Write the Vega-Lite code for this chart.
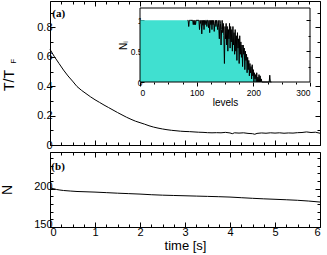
{
  "$schema": "https://vega.github.io/schema/vega-lite/v6.json",
  "padding": {"left": 0, "top": 0, "right": 2, "bottom": 0},
  "spacing": 0,
  "config": {
    "view": {"stroke": "black", "strokeWidth": 1},
    "font": "Liberation Sans",
    "axis": {"domain": false, "grid": false, "tickColor": "black", "labelColor": "black", "titleColor": "black", "labelFont": "Liberation Sans", "titleFont": "Liberation Sans", "titleFontWeight": "normal", "labelFontSize": 11, "titleFontSize": 14, "tickWidth": 1}
  },
  "datasets": {
    "a": [
      {"t": 0, "v": 0.651}, {"t": 0.1, "v": 0.6}, {"t": 0.2, "v": 0.555}, {"t": 0.3, "v": 0.51}, {"t": 0.4, "v": 0.47}, {"t": 0.5, "v": 0.435}, {"t": 0.6, "v": 0.398}, {"t": 0.7, "v": 0.372}, {"t": 0.8, "v": 0.35}, {"t": 0.9, "v": 0.328}, {"t": 1.0, "v": 0.308}, {"t": 1.1, "v": 0.29}, {"t": 1.2, "v": 0.272}, {"t": 1.3, "v": 0.255}, {"t": 1.4, "v": 0.238}, {"t": 1.5, "v": 0.221}, {"t": 1.6, "v": 0.205}, {"t": 1.7, "v": 0.189}, {"t": 1.8, "v": 0.175}, {"t": 1.9, "v": 0.162}, {"t": 2.0, "v": 0.152}, {"t": 2.1, "v": 0.142}, {"t": 2.2, "v": 0.131}, {"t": 2.3, "v": 0.122}, {"t": 2.4, "v": 0.115}, {"t": 2.5, "v": 0.109}, {"t": 2.6, "v": 0.104}, {"t": 2.7, "v": 0.1}, {"t": 2.8, "v": 0.097}, {"t": 2.9, "v": 0.094}, {"t": 3.0, "v": 0.092}, {"t": 3.1, "v": 0.091}, {"t": 3.2, "v": 0.089}, {"t": 3.3, "v": 0.087}, {"t": 3.4, "v": 0.086}, {"t": 3.5, "v": 0.084}, {"t": 3.6, "v": 0.083}, {"t": 3.7, "v": 0.084}, {"t": 3.8, "v": 0.083}, {"t": 3.9, "v": 0.086}, {"t": 4.0, "v": 0.082}, {"t": 4.05, "v": 0.077}, {"t": 4.1, "v": 0.083}, {"t": 4.2, "v": 0.081}, {"t": 4.3, "v": 0.083}, {"t": 4.4, "v": 0.079}, {"t": 4.5, "v": 0.077}, {"t": 4.55, "v": 0.073}, {"t": 4.6, "v": 0.079}, {"t": 4.7, "v": 0.082}, {"t": 4.8, "v": 0.08}, {"t": 4.9, "v": 0.083}, {"t": 5.0, "v": 0.081}, {"t": 5.1, "v": 0.083}, {"t": 5.2, "v": 0.08}, {"t": 5.3, "v": 0.082}, {"t": 5.4, "v": 0.081}, {"t": 5.5, "v": 0.084}, {"t": 5.6, "v": 0.085}, {"t": 5.7, "v": 0.089}, {"t": 5.8, "v": 0.085}, {"t": 5.9, "v": 0.087}, {"t": 6.0, "v": 0.08}
    ],
    "b": [
      {"t": 0, "n": 201.3}, {"t": 0.07, "n": 200.2}, {"t": 0.14, "n": 199.1}, {"t": 0.22, "n": 198.3}, {"t": 0.3, "n": 197.7}, {"t": 0.45, "n": 197}, {"t": 0.6, "n": 196.4}, {"t": 0.8, "n": 196}, {"t": 1.0, "n": 195.6}, {"t": 1.25, "n": 194.9}, {"t": 1.5, "n": 194.2}, {"t": 1.75, "n": 193.6}, {"t": 2.0, "n": 193}, {"t": 2.25, "n": 192.2}, {"t": 2.5, "n": 191.6}, {"t": 2.75, "n": 191.2}, {"t": 3.0, "n": 190.8}, {"t": 3.25, "n": 190.4}, {"t": 3.5, "n": 190}, {"t": 3.75, "n": 189.6}, {"t": 4.0, "n": 189.1}, {"t": 4.25, "n": 188.3}, {"t": 4.5, "n": 187.5}, {"t": 4.75, "n": 186.8}, {"t": 5.0, "n": 186.2}, {"t": 5.25, "n": 185.6}, {"t": 5.5, "n": 184.9}, {"t": 5.75, "n": 183.9}, {"t": 6.0, "n": 182.6}
    ],
    "inset": [
      {"level": 0, "n": 1}, {"level": 83, "n": 1}, {"level": 84, "n": 1}, {"level": 85, "n": 1}, {"level": 86, "n": 0.9}, {"level": 87, "n": 1}, {"level": 88, "n": 1}, {"level": 89, "n": 1}, {"level": 90, "n": 1}, {"level": 93, "n": 1}, {"level": 94, "n": 0.93}, {"level": 95, "n": 1}, {"level": 96, "n": 0.93}, {"level": 97, "n": 1}, {"level": 98, "n": 0.93}, {"level": 99, "n": 1}, {"level": 104, "n": 1}, {"level": 105, "n": 0.85}, {"level": 106, "n": 1}, {"level": 107, "n": 0.95}, {"level": 108, "n": 1}, {"level": 109, "n": 0.78}, {"level": 110, "n": 1}, {"level": 111, "n": 0.92}, {"level": 112, "n": 1}, {"level": 113, "n": 0.85}, {"level": 114, "n": 1}, {"level": 115, "n": 0.93}, {"level": 116, "n": 1}, {"level": 117, "n": 1}, {"level": 118, "n": 0.9}, {"level": 119, "n": 1}, {"level": 120, "n": 1}, {"level": 121, "n": 0.88}, {"level": 122, "n": 1}, {"level": 123, "n": 0.8}, {"level": 124, "n": 1}, {"level": 125, "n": 0.93}, {"level": 126, "n": 1}, {"level": 127, "n": 0.85}, {"level": 128, "n": 1}, {"level": 129, "n": 0.93}, {"level": 130, "n": 1}, {"level": 131, "n": 0.82}, {"level": 132, "n": 0.95}, {"level": 133, "n": 1}, {"level": 134, "n": 0.9}, {"level": 135, "n": 1}, {"level": 136, "n": 0.95}, {"level": 137, "n": 0.85}, {"level": 138, "n": 1}, {"level": 139, "n": 0.88}, {"level": 140, "n": 0.7}, {"level": 141, "n": 1}, {"level": 142, "n": 0.95}, {"level": 143, "n": 0.6}, {"level": 144, "n": 0.85}, {"level": 145, "n": 1}, {"level": 146, "n": 0.8}, {"level": 147, "n": 0.95}, {"level": 148, "n": 0.75}, {"level": 149, "n": 0.3}, {"level": 150, "n": 0.9}, {"level": 151, "n": 0.7}, {"level": 152, "n": 0.95}, {"level": 153, "n": 0.6}, {"level": 154, "n": 0.9}, {"level": 155, "n": 0.5}, {"level": 156, "n": 0.85}, {"level": 157, "n": 0.7}, {"level": 158, "n": 0.95}, {"level": 159, "n": 0.55}, {"level": 160, "n": 0.9}, {"level": 161, "n": 0.65}, {"level": 162, "n": 0.85}, {"level": 163, "n": 0.5}, {"level": 164, "n": 0.9}, {"level": 165, "n": 0.6}, {"level": 166, "n": 0.8}, {"level": 167, "n": 0.45}, {"level": 168, "n": 0.85}, {"level": 169, "n": 0.5}, {"level": 170, "n": 0.75}, {"level": 171, "n": 0.35}, {"level": 172, "n": 0.8}, {"level": 173, "n": 0.55}, {"level": 174, "n": 0.7}, {"level": 175, "n": 0.3}, {"level": 176, "n": 0.75}, {"level": 177, "n": 0.45}, {"level": 178, "n": 0.65}, {"level": 179, "n": 0.4}, {"level": 180, "n": 0.6}, {"level": 181, "n": 0.25}, {"level": 182, "n": 0.6}, {"level": 183, "n": 0.45}, {"level": 184, "n": 0.55}, {"level": 185, "n": 0.2}, {"level": 186, "n": 0.5}, {"level": 187, "n": 0.35}, {"level": 188, "n": 0.45}, {"level": 189, "n": 0.15}, {"level": 190, "n": 0.4}, {"level": 191, "n": 0.2}, {"level": 192, "n": 0.35}, {"level": 193, "n": 0.1}, {"level": 194, "n": 0.3}, {"level": 195, "n": 0.15}, {"level": 196, "n": 0.25}, {"level": 197, "n": 0.05}, {"level": 198, "n": 0.28}, {"level": 199, "n": 0.1}, {"level": 200, "n": 0.2}, {"level": 201, "n": 0}, {"level": 202, "n": 0.15}, {"level": 203, "n": 0.05}, {"level": 204, "n": 0.12}, {"level": 205, "n": 0}, {"level": 206, "n": 0.15}, {"level": 207, "n": 0}, {"level": 208, "n": 0.08}, {"level": 209, "n": 0}, {"level": 210, "n": 0.12}, {"level": 211, "n": 0}, {"level": 212, "n": 0.1}, {"level": 213, "n": 0}, {"level": 214, "n": 0.05}, {"level": 215, "n": 0}, {"level": 228, "n": 0}, {"level": 229, "n": 0.11}, {"level": 230, "n": 0}, {"level": 232, "n": 0}
    ]
  },
  "vconcat": [
    {
      "width": 270,
      "height": 144,
      "layer": [
        {
          "data": {"name": "a"},
          "layer": [
            {
              "mark": {"type": "line", "color": "black", "strokeWidth": 1},
              "encoding": {
                "x": {"field": "t", "type": "quantitative", "scale": {"domain": [0, 6], "nice": false}, "axis": {"orient": "bottom", "values": [0, 1, 2, 3, 4, 5, 6], "labels": false, "tickSize": -5, "title": null}},
                "y": {"field": "v", "type": "quantitative", "scale": {"domain": [0, 0.98], "nice": false}, "axis": {"orient": "left", "values": [0, 0.2, 0.4, 0.6, 0.8], "format": ".1~f", "tickSize": -5, "labelPadding": 3, "title": "T/T", "titlePadding": 20, "titleY": 79}}
              }
            },
            {
              "mark": {"type": "line", "opacity": 0},
              "encoding": {
                "x": {"field": "t", "type": "quantitative", "scale": {"domain": [0, 6], "nice": false}, "axis": {"orient": "bottom", "values": [0.25, 0.5, 0.75, 1.25, 1.5, 1.75, 2.25, 2.5, 2.75, 3.25, 3.5, 3.75, 4.25, 4.5, 4.75, 5.25, 5.5, 5.75], "labels": false, "tickSize": -3, "title": null}},
                "y": {"field": "v", "type": "quantitative", "scale": {"domain": [0, 0.98], "nice": false}, "axis": {"orient": "left", "values": [0.1, 0.3, 0.5, 0.7, 0.9], "labels": false, "tickSize": -3, "title": null}}
              }
            },
            {
              "mark": {"type": "line", "opacity": 0},
              "encoding": {
                "x": {"field": "t", "type": "quantitative", "scale": {"domain": [0, 6], "nice": false}, "axis": {"orient": "top", "values": [0, 1, 2, 3, 4, 5, 6], "labels": false, "tickSize": -5, "title": null}},
                "y": {"field": "v", "type": "quantitative", "scale": {"domain": [0, 0.98], "nice": false}, "axis": {"orient": "right", "values": [0, 0.2, 0.4, 0.6, 0.8], "labels": false, "tickSize": -5, "title": null}}
              }
            },
            {
              "mark": {"type": "line", "opacity": 0},
              "encoding": {
                "x": {"field": "t", "type": "quantitative", "scale": {"domain": [0, 6], "nice": false}, "axis": {"orient": "top", "values": [0.25, 0.5, 0.75, 1.25, 1.5, 1.75, 2.25, 2.5, 2.75, 3.25, 3.5, 3.75, 4.25, 4.5, 4.75, 5.25, 5.5, 5.75], "labels": false, "tickSize": -3, "title": null}},
                "y": {"field": "v", "type": "quantitative", "scale": {"domain": [0, 0.98], "nice": false}, "axis": {"orient": "right", "values": [0.1, 0.3, 0.5, 0.7, 0.9], "labels": false, "tickSize": -3, "title": null}}
              }
            },
            {
              "data": {"values": [{}]},
              "mark": {"type": "text", "text": "(a)", "font": "Liberation Serif", "fontWeight": "bold", "fontSize": 11, "align": "left", "baseline": "middle", "color": "black"},
              "encoding": {
                "x": {"datum": 0.05, "type": "quantitative", "scale": {"domain": [0, 6], "nice": false}, "axis": null},
                "y": {"datum": 0.89, "type": "quantitative", "scale": {"domain": [0, 0.98], "nice": false}, "axis": null}
              }
            },
            {
              "data": {"values": [{}]},
              "mark": {"type": "text", "text": "F", "fontSize": 8, "angle": 270, "align": "center", "baseline": "middle", "color": "black"},
              "encoding": {
                "x": {"datum": -0.81, "type": "quantitative", "scale": {"domain": [0, 6], "nice": false}, "axis": null},
                "y": {"datum": 0.57, "type": "quantitative", "scale": {"domain": [0, 0.98], "nice": false}, "axis": null}
              }
            }
          ],
          "resolve": {"axis": {"x": "independent", "y": "independent"}}
        },
        {
          "data": {"name": "inset"},
          "layer": [
            {
              "mark": {"type": "area", "color": "turquoise", "interpolate": "linear"},
              "encoding": {
                "x": {"field": "level", "type": "quantitative", "scale": {"domain": [0, 300], "range": [90, 260], "nice": false}, "axis": {"orient": "bottom", "offset": -63, "values": [0, 100, 200, 300], "tickSize": 4, "labelFontSize": 8.5, "labelPadding": 2, "title": "levels", "titleFontSize": 10, "titlePadding": 1}},
                "y": {"field": "n", "type": "quantitative", "scale": {"domain": [0, 1.2], "range": [81, 7], "nice": false}, "axis": {"orient": "left", "offset": -90, "values": [0, 0.5, 1], "format": ".1~f", "tickSize": -4, "labelFontSize": 8.5, "labelPadding": 2, "title": "Nᵢ", "titleFontSize": 10, "titlePadding": 2}}
              }
            },
            {
              "transform": [{"filter": "datum.level >= 84"}],
              "mark": {"type": "line", "color": "black", "strokeWidth": 1},
              "encoding": {
                "x": {"field": "level", "type": "quantitative", "scale": {"domain": [0, 300], "range": [90, 260], "nice": false}, "axis": {"orient": "bottom", "offset": -63, "values": [25, 50, 75, 125, 150, 175, 225, 250, 275], "tickSize": 2, "labels": false, "title": null}},
                "y": {"field": "n", "type": "quantitative", "scale": {"domain": [0, 1.2], "range": [81, 7], "nice": false}, "axis": {"orient": "right", "offset": -10, "values": [0.5, 1], "tickSize": -4, "labels": false, "title": null}}
              }
            },
            {
              "data": {"values": [{}]},
              "mark": {"type": "rect", "fillOpacity": 0, "stroke": "black", "strokeWidth": 1},
              "encoding": {
                "x": {"datum": 0, "type": "quantitative", "scale": {"domain": [0, 300], "range": [90, 260], "nice": false}, "axis": null},
                "x2": {"datum": 300},
                "y": {"datum": 0, "type": "quantitative", "scale": {"domain": [0, 1.2], "range": [81, 7], "nice": false}, "axis": {"orient": "right", "offset": -10, "values": [0.25, 0.75], "tickSize": -2, "labels": false, "title": null}},
                "y2": {"datum": 1.2}
              }
            }
          ],
          "resolve": {"axis": {"x": "independent", "y": "independent"}}
        }
      ],
      "resolve": {"scale": {"x": "independent", "y": "independent"}}
    },
    {
      "width": 270,
      "height": 75,
      "data": {"name": "b"},
      "layer": [
        {
          "mark": {"type": "line", "color": "black", "strokeWidth": 1},
          "encoding": {
            "x": {"field": "t", "type": "quantitative", "scale": {"domain": [0, 6], "nice": false}, "axis": {"orient": "bottom", "values": [0, 1, 2, 3, 4, 5, 6], "format": "d", "tickSize": -5, "labelPadding": 4, "title": "time [s]", "titleFontSize": 13, "titlePadding": 2}},
            "y": {"field": "n", "type": "quantitative", "scale": {"domain": [150, 248], "nice": false}, "axis": {"orient": "left", "values": [150, 200], "format": "d", "tickSize": -5, "labelPadding": 3, "labelOffset": -2.5, "title": "N", "titlePadding": 19}}
          }
        },
        {
          "mark": {"type": "line", "opacity": 0},
          "encoding": {
            "x": {"field": "t", "type": "quantitative", "scale": {"domain": [0, 6], "nice": false}, "axis": {"orient": "bottom", "values": [0.25, 0.5, 0.75, 1.25, 1.5, 1.75, 2.25, 2.5, 2.75, 3.25, 3.5, 3.75, 4.25, 4.5, 4.75, 5.25, 5.5, 5.75], "labels": false, "tickSize": -3, "title": null}},
            "y": {"field": "n", "type": "quantitative", "scale": {"domain": [150, 248], "nice": false}, "axis": {"orient": "left", "values": [160, 170, 180, 190, 210, 220, 230, 240], "labels": false, "tickSize": -3, "title": null}}
          }
        },
        {
          "mark": {"type": "line", "opacity": 0},
          "encoding": {
            "x": {"field": "t", "type": "quantitative", "scale": {"domain": [0, 6], "nice": false}, "axis": {"orient": "top", "values": [0, 1, 2, 3, 4, 5, 6], "labels": false, "tickSize": -5, "title": null}},
            "y": {"field": "n", "type": "quantitative", "scale": {"domain": [150, 248], "nice": false}, "axis": {"orient": "right", "values": [150, 200], "labels": false, "tickSize": -5, "title": null}}
          }
        },
        {
          "mark": {"type": "line", "opacity": 0},
          "encoding": {
            "x": {"field": "t", "type": "quantitative", "scale": {"domain": [0, 6], "nice": false}, "axis": {"orient": "top", "values": [0.25, 0.5, 0.75, 1.25, 1.5, 1.75, 2.25, 2.5, 2.75, 3.25, 3.5, 3.75, 4.25, 4.5, 4.75, 5.25, 5.5, 5.75], "labels": false, "tickSize": -3, "title": null}},
            "y": {"field": "n", "type": "quantitative", "scale": {"domain": [150, 248], "nice": false}, "axis": {"orient": "right", "values": [160, 170, 180, 190, 210, 220, 230, 240], "labels": false, "tickSize": -3, "title": null}}
          }
        },
        {
          "data": {"values": [{}]},
          "mark": {"type": "text", "text": "(b)", "font": "Liberation Serif", "fontWeight": "bold", "fontSize": 11, "align": "left", "baseline": "middle", "color": "black"},
          "encoding": {
            "x": {"datum": 0.03, "type": "quantitative", "scale": {"domain": [0, 6], "nice": false}, "axis": null},
            "y": {"datum": 228, "type": "quantitative", "scale": {"domain": [150, 248], "nice": false}, "axis": null}
          }
        }
      ],
      "resolve": {"axis": {"x": "independent", "y": "independent"}}
    }
  ]
}
